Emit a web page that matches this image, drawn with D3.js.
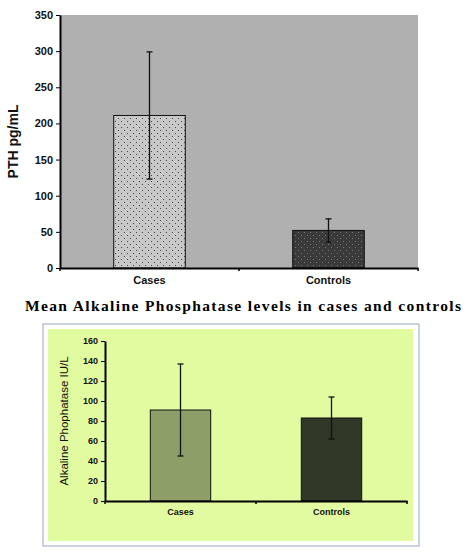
<!DOCTYPE html>
<html><head><meta charset="utf-8">
<script src="https://cdn.jsdelivr.net/npm/d3@7"></script>
<style>body{margin:0;background:#fff}</style>
</head><body>
<script>
const categories = ["Cases", "Controls"];
const pthMeans = [211, 52];
const pthLow = [123, 36];
const pthHigh = [299, 68];
const pthTicks = [0, 50, 100, 150, 200, 250, 300, 350];
const alpMeans = [91, 83];
const alpLow = [45, 62];
const alpHigh = [137, 104];
const alpTicks = [0, 20, 40, 60, 80, 100, 120, 140, 160];
const alpTitle = "Mean Alkaline Phosphatase levels in cases and controls";

const svg = d3.select("body").append("svg").attr("width", 474).attr("height", 557);
const defs = svg.append("defs");
function dots(id, bg, fg) {
  const p = defs.append("pattern").attr("id", id).attr("patternUnits", "userSpaceOnUse")
    .attr("width", 6).attr("height", 6);
  p.append("rect").attr("width", 6).attr("height", 6).attr("fill", bg);
  p.append("rect").attr("x", 1).attr("y", 1).attr("width", 1).attr("height", 1).attr("fill", fg);
  p.append("rect").attr("x", 4).attr("y", 4).attr("width", 1).attr("height", 1).attr("fill", fg);
}
dots("pLight", "#c8c8c8", "#444");
dots("pDark", "#3a3a3a", "#777");

function drawChart(g, o) {
  const x = d3.scaleBand().domain(categories).range([o.x0, o.x1]).paddingInner(o.pad).paddingOuter(o.pad / 2);
  const y = d3.scaleLinear().domain([0, o.max]).range([o.y0, o.y1]);
  if (o.plotBg) g.append("rect").attr("x", o.x0).attr("y", o.y1).attr("width", o.x1 - o.x0)
    .attr("height", o.y0 - o.y1).attr("fill", o.plotBg);
  g.selectAll(".bar").data(categories).join("rect")
    .attr("x", d => x(d)).attr("width", x.bandwidth())
    .attr("y", (d, i) => y(o.means[i])).attr("height", (d, i) => o.y0 - y(o.means[i]))
    .attr("fill", (d, i) => o.fills[i]).attr("stroke", "#111").attr("stroke-width", 1);
  const eb = g.selectAll(".eb").data(categories).join("g")
    .attr("stroke", "#111").attr("stroke-width", 1.3);
  eb.append("line").attr("x1", d => x(d) + x.bandwidth() / 2).attr("x2", d => x(d) + x.bandwidth() / 2)
    .attr("y1", (d, i) => y(o.low[i])).attr("y2", (d, i) => y(o.high[i]));
  ["low", "high"].forEach(k => eb.append("line")
    .attr("x1", d => x(d) + x.bandwidth() / 2 - 3).attr("x2", d => x(d) + x.bandwidth() / 2 + 3)
    .attr("y1", (d, i) => y(o[k][i])).attr("y2", (d, i) => y(o[k][i])));
  const ya = g.append("g").attr("transform", `translate(${o.x0},0)`)
    .call(d3.axisLeft(y).tickValues(o.ticks).tickSize(4).tickSizeOuter(0));
  ya.select(".domain").attr("stroke-width", 2);
  const xa = g.append("g").attr("transform", `translate(0,${o.y0})`)
    .call(d3.axisBottom(x).tickSize(0).tickPadding(o.xPad));
  xa.select(".domain").attr("stroke-width", 2);
  [o.x0, (o.x0 + o.x1) / 2, o.x1].forEach(v => g.append("line").attr("x1", v).attr("x2", v)
    .attr("y1", o.y0).attr("y2", o.y0 + 3).attr("stroke", "#000").attr("stroke-width", 1.5));
  g.selectAll(".tick text").attr("font-family", "Arial, Liberation Sans, sans-serif")
    .attr("font-weight", "bold").attr("font-size", o.fs).attr("fill", "#111");
  xa.selectAll(".tick text").attr("font-size", o.xfs);
  g.append("text").attr("transform", `translate(${o.labX},${(o.y0 + o.y1) / 2}) rotate(-90)`)
    .attr("text-anchor", "middle").attr("font-family", "Arial, Liberation Sans, sans-serif")
    .attr("font-weight", o.labW).attr("font-size", o.labFs).attr("fill", "#111").text(o.label);
}

drawChart(svg.append("g"), {
  x0: 60, x1: 418, y0: 268, y1: 15, max: 350, pad: 0.6, plotBg: "#b0b0b0",
  means: pthMeans, low: pthLow, high: pthHigh, ticks: pthTicks,
  fills: ["url(#pLight)", "url(#pDark)"], fs: 11, xfs: 11, xPad: 8,
  label: "PTH pg/mL", labX: 18, labFs: 14, labW: "bold"
});

svg.append("text").attr("x", 243).attr("y", 311).attr("text-anchor", "middle")
  .attr("font-family", "Liberation Serif, Times New Roman, serif").attr("font-weight", "bold")
  .attr("font-size", 15.5).attr("textLength", 436).attr("lengthAdjust", "spacing").text(alpTitle);
svg.append("rect").attr("x", 43).attr("y", 324).attr("width", 376).attr("height", 222)
  .attr("fill", "#fff").attr("stroke", "#a9b4cc").attr("stroke-width", 1.2);
svg.append("rect").attr("x", 48).attr("y", 329).attr("width", 365).attr("height", 212).attr("fill", "#e2fba0");

drawChart(svg.append("g"), {
  x0: 105, x1: 407, y0: 501, y1: 341, max: 160, pad: 0.6,
  means: alpMeans, low: alpLow, high: alpHigh, ticks: alpTicks,
  fills: ["#8d9e69", "#2f3826"], fs: 9, xfs: 9, xPad: 8,
  label: "Alkaline Phophatase IU/L", labX: 68, labFs: 11.5, labW: "normal"
});
</script>
</body></html>
